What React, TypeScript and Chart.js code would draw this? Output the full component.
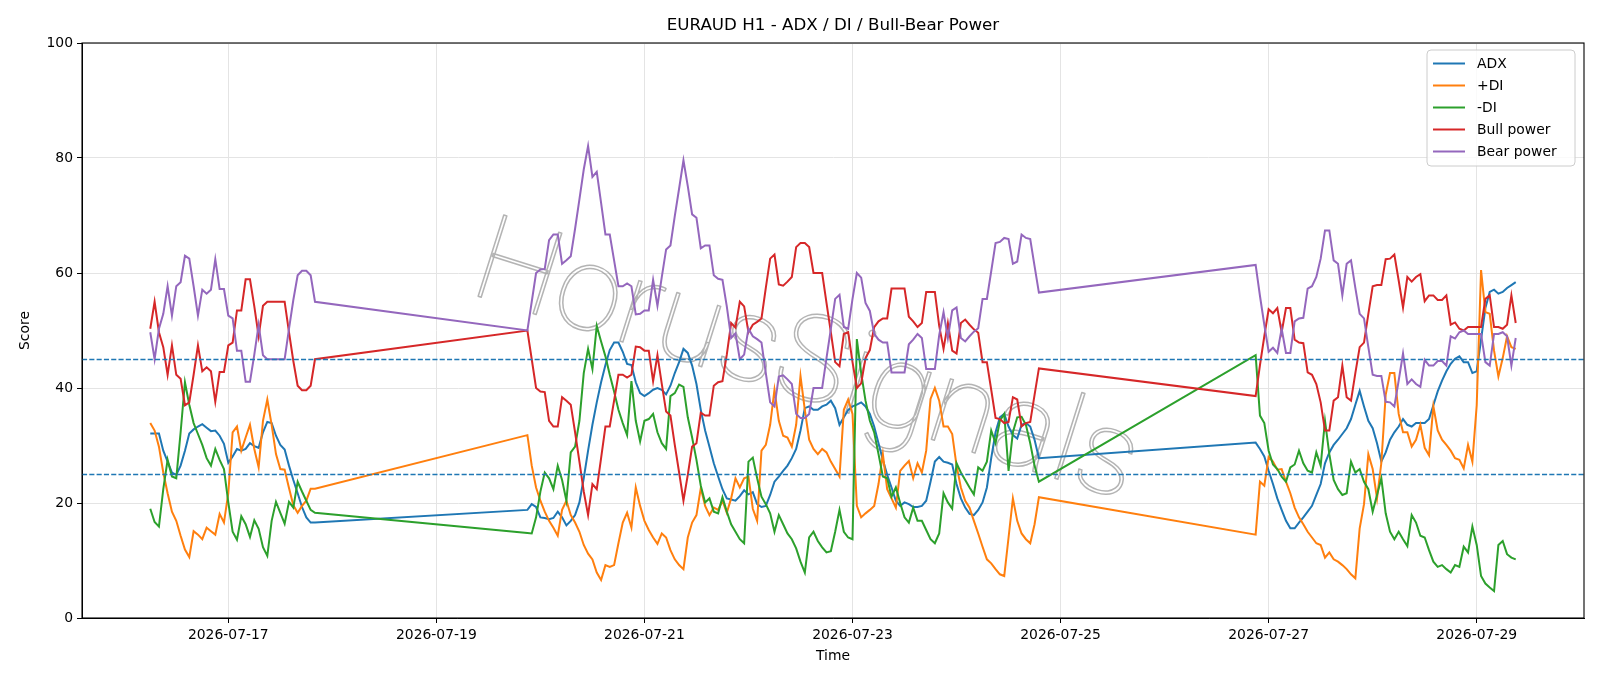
import React, { useEffect, useRef } from "react";
import { Chart, registerables } from "chart.js";

Chart.register(...registerables);

const TITLE = "EURAUD H1 - ADX / DI / Bull-Bear Power";
const X_LABEL = "Time";
const Y_LABEL = "Score";
const WATERMARK = "HorusSignals";
const FONT = '"DejaVu Sans", "Liberation Sans", sans-serif';
const WATERMARK_FONT = 'Roboto, Lato, "DejaVu Sans", sans-serif';

// hours after 2026-07-16 00:00 at which each trading block starts (hourly bars)
const SEGMENT_START_HOURS = [6, 93, 261];
const X_MIN = -9.75;
const X_MAX = 336.75;
const X_TICK_HOURS = [24, 72, 120, 168, 216, 264, 312];
const X_TICK_LABELS = ["2026-07-17", "2026-07-19", "2026-07-21", "2026-07-23", "2026-07-25", "2026-07-27", "2026-07-29"];
const Y_TICKS = [0, 20, 40, 60, 80, 100];
const THRESHOLDS = [45, 25];

// ADX
const ADX_1 = [32.1, 32.1, 32.1, 29.1, 27.2, 25.3, 24.9, 26.5, 29.1, 32.1, 32.8, 33.3, 33.7, 33.1, 32.5, 32.6, 31.7, 30.3, 27, 28.1, 29.4, 29.1, 29.4, 30.4, 29.9, 29.6, 32.3, 34.1, 33.9, 31.7, 30.1, 29.3, 26.5, 24, 21.7, 19.3, 17.5, 16.6, 16.6];
const ADX_2 = [
  18.8, 19.8, 19.3, 17.5, 17.4, 17.2, 17.4, 18.5, 17.5, 16.1,
  16.9, 17.9, 20.1, 24.3, 29.1, 33.6, 37.5, 41, 44, 46.6,
  47.9, 47.9, 46.3, 44.2, 44, 41, 39.1, 38.6, 39.1, 39.7,
  40, 39.7, 38.9, 40.4, 42.6, 44.5, 46.8, 46.1, 43.9, 40.7,
  36.2, 32.6, 29.8, 26.9, 24.6, 22.4, 20.8, 20.6, 20.4, 21.2,
  22.2, 21.5, 21.9, 19.8, 19.3, 19.5, 21.4, 23.7, 24.6, 25.6,
  26.5, 27.8, 29.4, 32.6, 36.5, 36.8, 36.2, 36.2, 36.8, 37.1,
  37.8, 36.5, 33.6, 34.9, 36.2, 36.8, 37.1, 37.5, 36.8, 35.5,
  33.3, 30.4, 27.5, 24.9, 22.7, 20.4, 19.5, 20.1, 19.8, 19.3,
  19.3, 19.5, 20.4, 23.7, 27.2, 28, 27.2, 27, 26.7, 23.3,
  20.8, 19.2, 18.1, 17.9, 18.8, 20.1, 22.7, 27.8, 32.3, 34.9,
  35.5, 33.3, 31.8, 31.2, 33.6, 33.9, 33.3, 31, 27.8,
];
const ADX_3 = [
  30.5, 29.4, 28.1, 25.6, 23.3, 20.8, 18.8, 16.9, 15.6, 15.6,
  16.6, 17.5, 18.5, 19.5, 21.4, 23.3, 26.9, 28.8, 30.1, 31,
  32, 33, 34.6, 37.1, 39.5, 36.8, 34.3, 33, 30.4, 27.2,
  28.8, 31, 32.3, 33.3, 34.6, 33.6, 33.3, 33.9, 33.9, 33.9,
  34.6, 37, 39.4, 41.3, 42.9, 44.2, 45.1, 45.5, 44.5, 44.5,
  42.6, 42.9, 48.4, 53.9, 56.7, 57.1, 56.4, 56.7, 57.4, 57.9,
  58.4,
];

// +DI
const PDI_1 = [33.9, 32.6, 29.8, 25.3, 21.7, 18.5, 16.9, 14.3, 11.9, 10.6, 15.1, 14.5, 13.7, 15.7, 15.1, 14.5, 18.1, 16.6, 21.7, 32.3, 33.3, 29.1, 31.4, 33.6, 29.4, 26.2, 34.3, 38, 33.6, 28.5, 25.9, 25.8, 22.6, 19.6, 18.3, 19.5, 20.4, 22.5, 22.5];
const PDI_2 = [
  31.8, 26.5, 22.7, 20.4, 18.5, 16.9, 15.7, 14.3, 18.8, 20.4,
  17.9, 16.6, 15, 12.7, 11.2, 10.2, 7.9, 6.6, 9.2, 8.9,
  9.2, 13, 16.6, 18.3, 15.7, 22.7, 19.5, 16.9, 15.3, 14,
  12.9, 14.7, 14, 11.8, 10.2, 9.2, 8.5, 14, 16.6, 17.9,
  22.6, 19.5, 17.9, 19.2, 18.8, 20.4, 18.3, 20.8, 24.3, 22.7,
  24.3, 24.6, 19, 16.9, 29.1, 30.1, 33.6, 39.7, 34.3, 31.7,
  31.4, 29.8, 33.6, 42.1, 36.2, 31, 29.4, 28.5, 29.4, 28.8,
  27.2, 25.9, 24.6, 36.2, 38, 35.5, 19.5, 17.5, 18.2, 18.8,
  19.5, 23.3, 28.5, 22.4, 20.8, 19.2, 25.6, 26.5, 27.3, 24.3,
  26.9, 25.3, 29.1, 38.1, 40, 37.8, 33.3, 33.3, 32, 26.5,
  22.7, 20.4, 19.2, 16.9, 14.7, 12.4, 10.2, 9.5, 8.5, 7.6,
  7.3, 14, 20.8, 16.9, 14.7, 13.7, 13, 16.3, 21,
];
const PDI_3 = [
  14.5, 23.7, 23, 28, 27.2, 25.8, 25.9, 23.7, 21.7, 19.2,
  17.5, 16.3, 15, 14, 13, 12.7, 10.5, 11.4, 10.2, 9.8,
  9.2, 8.5, 7.6, 6.9, 15.6, 19.8, 28.5, 25.9, 20.8, 27,
  38.8, 42.6, 42.6, 35.5, 32.3, 32.3, 29.8, 31, 33.6, 29.6,
  28.3, 36.8, 32.6, 31, 30.1, 29.1, 27.8, 27.5, 26, 30.1,
  27.2, 37, 60.5, 53.2, 52.9, 46.5, 42, 45.2, 49, 47.1,
  46.8,
];

// -DI
const MDI_1 = [19, 16.7, 15.9, 22.4, 27.5, 24.6, 24.3, 32.3, 41, 37.1, 33.9, 32, 30.1, 27.8, 26.5, 29.4, 27.5, 25.9, 20.1, 15, 13.6, 17.7, 16.3, 14.1, 17, 15.5, 12.3, 10.8, 16.9, 20.2, 18.3, 16.4, 20.2, 19.2, 23.7, 22, 20.4, 18.8, 18.3];
const MDI_2 = [
  14.8, 14.7, 17.5, 22, 25.3, 24.3, 22.4, 26.5, 24, 20.4,
  28.8, 29.8, 34.3, 42.6, 46.8, 43.3, 50.8, 48.1, 45.5, 42.3,
  39.4, 36.2, 33.9, 31.8, 41.2, 34.3, 30.7, 34.3, 34.6, 35.5,
  32.3, 30.4, 29.4, 38.6, 39.1, 40.6, 40.2, 34.9, 31.4, 27.5,
  23, 20.1, 20.8, 18.5, 18.2, 21, 18.5, 16.3, 15, 13.7,
  13, 27.2, 27.9, 24.3, 21.1, 19.8, 18.2, 15, 17.9, 16.3,
  14.7, 13.7, 12.1, 9.8, 7.9, 14, 15, 13.4, 12.3, 11.4,
  11.6, 15, 18.8, 15, 14, 13.7, 48.5, 42.6, 37.8, 34.3,
  32.3, 28.5, 24.6, 24.3, 21.1, 22.7, 20, 17.5, 16.6, 19.2,
  16.9, 16.9, 15.3, 13.7, 13, 14.7, 21.7, 20.1, 19, 26.9,
  25.3, 24, 22.7, 21.5, 26.2, 25.6, 27.2, 32.6, 30.4, 34.3,
  35.5, 25.6, 32.3, 34.9, 35, 33.6, 30.4, 26.5, 23.7,
];
const MDI_3 = [
  45.7, 35.2, 33.9, 29.1, 26.7, 25.9, 24.6, 23.7, 26.2, 26.7,
  29.1, 26.9, 25.6, 25.3, 28.8, 26.5, 34.3, 28.5, 24, 22.4,
  21.4, 21.7, 27.2, 25.3, 25.9, 23.7, 22.4, 18.5, 21.4, 24.3,
  18.2, 15, 13.7, 15, 13.7, 12.5, 17.9, 16.6, 14.3, 14,
  11.8, 9.8, 8.9, 9.2, 8.5, 7.9, 9.2, 8.9, 12.4, 11.4,
  15.9, 12.7, 7.3, 6, 5.3, 4.7, 12.7, 13.4, 11.1, 10.5,
  10.2,
];

// Bull power
const BULL_1 = [50.3, 55, 49.7, 47.1, 42.3, 47.4, 42.3, 41.6, 37, 37.5, 42.3, 47.4, 42.9, 43.6, 42.9, 37.6, 42.8, 42.8, 47.4, 47.9, 53.5, 53.5, 58.9, 58.9, 54.2, 49, 54.3, 55, 55, 55, 55, 55, 49.7, 44.7, 40.4, 39.6, 39.6, 40.4, 45];
const BULL_2 = [
  50, 45, 40, 39.4, 39.3, 34.3, 33.3, 33.3, 38.4, 37.8,
  37.1, 32.3, 27.2, 22, 17.9, 23.3, 22.4, 27.8, 33.3, 33.3,
  37.8, 42.3, 42.3, 41.8, 42.3, 47.2, 47.1, 46.5, 46.5, 41.2,
  45.7, 40.7, 35.9, 35.2, 30.1, 25.3, 20.4, 24.9, 29.8, 30.4,
  35.7, 35.2, 35.2, 40.4, 41, 41.2, 45.8, 51.3, 50.5, 55,
  54.2, 49.7, 51, 51.5, 52.1, 57.4, 62.5, 63.2, 58, 57.8,
  58.5, 59.3, 64.5, 65.2, 65.2, 64.5, 60, 60, 60, 54.8,
  49.7, 44.5, 43.8, 49.4, 49.7, 44.5, 40, 40.8, 45.2, 46.6,
  50.6, 51.6, 52.1, 52.1, 57.3, 57.3, 57.3, 57.3, 52.4, 51.6,
  50.6, 51.3, 56.7, 56.7, 56.7, 50.8, 46.8, 51.3, 46.5, 46,
  51.3, 51.9, 51, 50.2, 49.6, 44.5, 44.5, 39.7, 34.8, 34.6,
  33.9, 34.1, 38.4, 38, 33.3, 33.9, 34.1, 38.8, 43.4,
];
const BULL_3 = [
  38.6, 44, 49, 53.7, 53, 53.9, 49.7, 53.9, 53.9, 48.4,
  47.9, 47.8, 42.7, 42.3, 40.7, 37.5, 32.6, 32.6, 37.8, 38.4,
  43.9, 38.4, 37.8, 42.6, 47.1, 47.9, 52.9, 57.7, 57.9, 57.9,
  62.4, 62.5, 63.2, 58.7, 54, 59.3, 58.5, 59.3, 59.8, 55.1,
  56.1, 56.1, 55.3, 55.3, 56.1, 51, 51.4, 50.3, 50, 50.6,
  50.6, 50.6, 50.6, 55.5, 56.1, 50.6, 50.6, 50.3, 51, 56.1,
  51.3,
];

// Bear power
const BEAR_1 = [49.7, 45, 50.3, 52.9, 57.7, 52.6, 57.7, 58.4, 63, 62.5, 57.7, 52.6, 57.1, 56.4, 57.1, 62.4, 57.2, 57.2, 52.6, 52.1, 46.5, 46.5, 41.1, 41.1, 45.8, 51, 45.7, 45, 45, 45, 45, 45, 50.3, 55.3, 59.6, 60.4, 60.4, 59.6, 55];
const BEAR_2 = [
  50, 55, 60, 60.6, 60.7, 65.7, 66.7, 66.7, 61.6, 62.2,
  62.9, 67.7, 72.8, 78, 82.1, 76.7, 77.6, 72.2, 66.7, 66.7,
  62.2, 57.7, 57.7, 58.2, 57.7, 52.8, 52.9, 53.5, 53.5, 58.8,
  54.3, 59.3, 64.1, 64.8, 69.9, 74.7, 79.6, 75.1, 70.2, 69.6,
  64.3, 64.8, 64.8, 59.6, 59, 58.8, 54.2, 48.7, 49.5, 45,
  45.8, 50.3, 49, 48.5, 47.9, 42.6, 37.5, 36.8, 42, 42.2,
  41.5, 40.7, 35.5, 34.8, 34.8, 35.5, 40, 40, 40, 45.2,
  50.3, 55.5, 56.2, 50.6, 50.3, 55.5, 60, 59.2, 54.8, 53.4,
  49.4, 48.4, 47.9, 47.9, 42.7, 42.7, 42.7, 42.7, 47.6, 48.4,
  49.4, 48.7, 43.3, 43.3, 43.3, 49.2, 53.2, 48.7, 53.5, 54,
  48.7, 48.1, 49, 49.8, 50.4, 55.5, 55.5, 60.3, 65.2, 65.4,
  66.1, 65.9, 61.6, 62, 66.7, 66.1, 65.9, 61.2, 56.6,
];
const BEAR_3 = [
  61.4, 56, 51, 46.3, 47, 46.1, 50.3, 46.1, 46.1, 51.6,
  52.1, 52.2, 57.3, 57.7, 59.3, 62.5, 67.4, 67.4, 62.2, 61.6,
  56.1, 61.6, 62.2, 57.4, 52.9, 52.1, 47.1, 42.3, 42.1, 42.1,
  37.6, 37.5, 36.8, 41.3, 46, 40.7, 41.5, 40.7, 40.2, 44.9,
  43.9, 43.9, 44.7, 44.7, 43.9, 49, 48.6, 49.7, 50, 49.4,
  49.4, 49.4, 49.4, 44.5, 43.9, 49.4, 49.4, 49.7, 49, 43.9,
  48.7,
];

const SERIES = [
  { label: "ADX", color: "#1f77b4", segments: [ADX_1, ADX_2, ADX_3] },
  { label: "+DI", color: "#ff7f0e", segments: [PDI_1, PDI_2, PDI_3] },
  { label: "-DI", color: "#2ca02c", segments: [MDI_1, MDI_2, MDI_3] },
  { label: "Bull power", color: "#d62728", segments: [BULL_1, BULL_2, BULL_3] },
  { label: "Bear power", color: "#9467bd", segments: [BEAR_1, BEAR_2, BEAR_3] },
];

function toPoints(segments: number[][]) {
  const pts: { x: number; y: number }[] = [];
  segments.forEach((seg, s) => {
    seg.forEach((v, i) => pts.push({ x: SEGMENT_START_HOURS[s] + i, y: v }));
  });
  return pts;
}

const overlayPlugin = {
  id: "overlay",
  beforeDatasetsDraw(chart: any) {
    const { ctx, chartArea: a } = chart;
    ctx.save();
    ctx.beginPath();
    ctx.rect(a.left, a.top, a.right - a.left, a.bottom - a.top);
    ctx.clip();
    ctx.translate(805, 368);
    ctx.rotate((17.5 * Math.PI) / 180);
    let size = 100;
    ctx.font = `100 ${size}px ${WATERMARK_FONT}`;
    const w = ctx.measureText(WATERMARK).width;
    size = (size * 690) / w;
    ctx.font = `100 ${size}px ${WATERMARK_FONT}`;
    ctx.textAlign = "center";
    ctx.textBaseline = "middle";
    ctx.lineJoin = "round";
    ctx.strokeStyle = "rgba(130,130,130,0.6)";
    ctx.lineWidth = 1.5;
    ctx.strokeText(WATERMARK, 0, 0);
    ctx.restore();
  },
  afterDatasetsDraw(chart: any) {
    const { ctx, chartArea: a, scales } = chart;
    ctx.save();
    ctx.strokeStyle = "#1f77b4";
    ctx.lineWidth = 1.3;
    ctx.setLineDash([5.1, 2.2]);
    THRESHOLDS.forEach((t) => {
      const y = Math.round(scales.y.getPixelForValue(t)) + 0.5;
      ctx.beginPath();
      ctx.moveTo(a.left, y);
      ctx.lineTo(a.right, y);
      ctx.stroke();
    });
    ctx.restore();
  },
  afterDraw(chart: any) {
    const { ctx, chartArea: a } = chart;
    ctx.save();
    // frame
    ctx.strokeStyle = "#000";
    ctx.lineWidth = 1.1;
    ctx.strokeRect(a.left, a.top, a.right - a.left, a.bottom - a.top);
    // title and axis labels
    ctx.fillStyle = "#000";
    ctx.textAlign = "center";
    ctx.textBaseline = "middle";
    ctx.font = `16.7px ${FONT}`;
    const cx = (a.left + a.right) / 2;
    ctx.fillText(TITLE, cx, 26);
    ctx.font = `13.9px ${FONT}`;
    ctx.fillText(X_LABEL, cx, 656);
    ctx.save();
    ctx.translate(25.5, (a.top + a.bottom) / 2);
    ctx.rotate(-Math.PI / 2);
    ctx.fillText(Y_LABEL, 0, 0);
    ctx.restore();
    // legend
    const bx = 1427, by = 50, bw = 148, bh = 116, r = 4;
    ctx.beginPath();
    ctx.moveTo(bx + r, by);
    ctx.lineTo(bx + bw - r, by);
    ctx.arcTo(bx + bw, by, bx + bw, by + r, r);
    ctx.lineTo(bx + bw, by + bh - r);
    ctx.arcTo(bx + bw, by + bh, bx + bw - r, by + bh, r);
    ctx.lineTo(bx + r, by + bh);
    ctx.arcTo(bx, by + bh, bx, by + bh - r, r);
    ctx.lineTo(bx, by + r);
    ctx.arcTo(bx, by, bx + r, by, r);
    ctx.closePath();
    ctx.fillStyle = "rgba(255,255,255,0.8)";
    ctx.fill();
    ctx.strokeStyle = "#cccccc";
    ctx.lineWidth = 1;
    ctx.stroke();
    ctx.textAlign = "left";
    ctx.font = `13.9px ${FONT}`;
    SERIES.forEach((s, i) => {
      const y = 63.5 + i * 22;
      ctx.strokeStyle = s.color;
      ctx.lineWidth = 2;
      ctx.beginPath();
      ctx.moveTo(1433, y);
      ctx.lineTo(1465, y);
      ctx.stroke();
      ctx.fillStyle = "#000";
      ctx.fillText(s.label, 1477, y + 0.5);
    });
    ctx.restore();
  },
};

export default function App() {
  const canvasRef = useRef<HTMLCanvasElement | null>(null);

  useEffect(() => {
    document.body.style.margin = "0";
    const canvas = canvasRef.current;
    if (!canvas) return;
    const n = SERIES.length;
    const chart = new Chart(canvas, {
      type: "line",
      data: {
        datasets: SERIES.map((s, i) => ({
          label: s.label,
          data: toPoints(s.segments),
          borderColor: s.color,
          backgroundColor: s.color,
          borderWidth: 2,
          pointRadius: 0,
          fill: false,
          tension: 0,
          order: n - i,
        })),
      },
      options: {
        responsive: false,
        animation: false,
        devicePixelRatio: 1,
        layout: { padding: { top: 43, right: 16, left: 0, bottom: 0 } },
        plugins: {
          legend: { display: false },
          tooltip: { enabled: false },
          title: { display: false },
        },
        scales: {
          x: {
            type: "linear",
            min: X_MIN,
            max: X_MAX,
            afterBuildTicks: (scale: any) => {
              scale.ticks = X_TICK_HOURS.map((v) => ({ value: v }));
            },
            afterFit: (scale: any) => {
              scale.height = 68;
            },
            ticks: {
              autoSkip: false,
              maxRotation: 0,
              padding: 4,
              color: "#000",
              font: { family: FONT, size: 13.9 },
              callback: (v: any) => {
                const idx = X_TICK_HOURS.indexOf(Number(v));
                return idx >= 0 ? X_TICK_LABELS[idx] : "";
              },
            },
            grid: {
              color: "#e4e4e4",
              lineWidth: 1,
              tickColor: "#000",
              tickLength: 5,
              drawTicks: true,
            },
            border: { display: true, color: "#000", width: 1 },
          },
          y: {
            type: "linear",
            min: 0,
            max: 100,
            afterBuildTicks: (scale: any) => {
              scale.ticks = Y_TICKS.map((v) => ({ value: v }));
            },
            afterFit: (scale: any) => {
              scale.width = 82;
            },
            ticks: {
              padding: 4,
              color: "#000",
              font: { family: FONT, size: 13.9 },
              callback: (v: any) => String(v),
            },
            grid: {
              color: "#e4e4e4",
              lineWidth: 1,
              tickColor: "#000",
              tickLength: 5,
              drawTicks: true,
            },
            border: { display: true, color: "#000", width: 1 },
          },
        },
      },
      plugins: [overlayPlugin],
    } as any);
    return () => chart.destroy();
  }, []);

  return (
    <div style={{ width: 1600, height: 686, background: "#fff" }}>
      <canvas ref={canvasRef} width={1600} height={686} style={{ display: "block" }} />
    </div>
  );
}
